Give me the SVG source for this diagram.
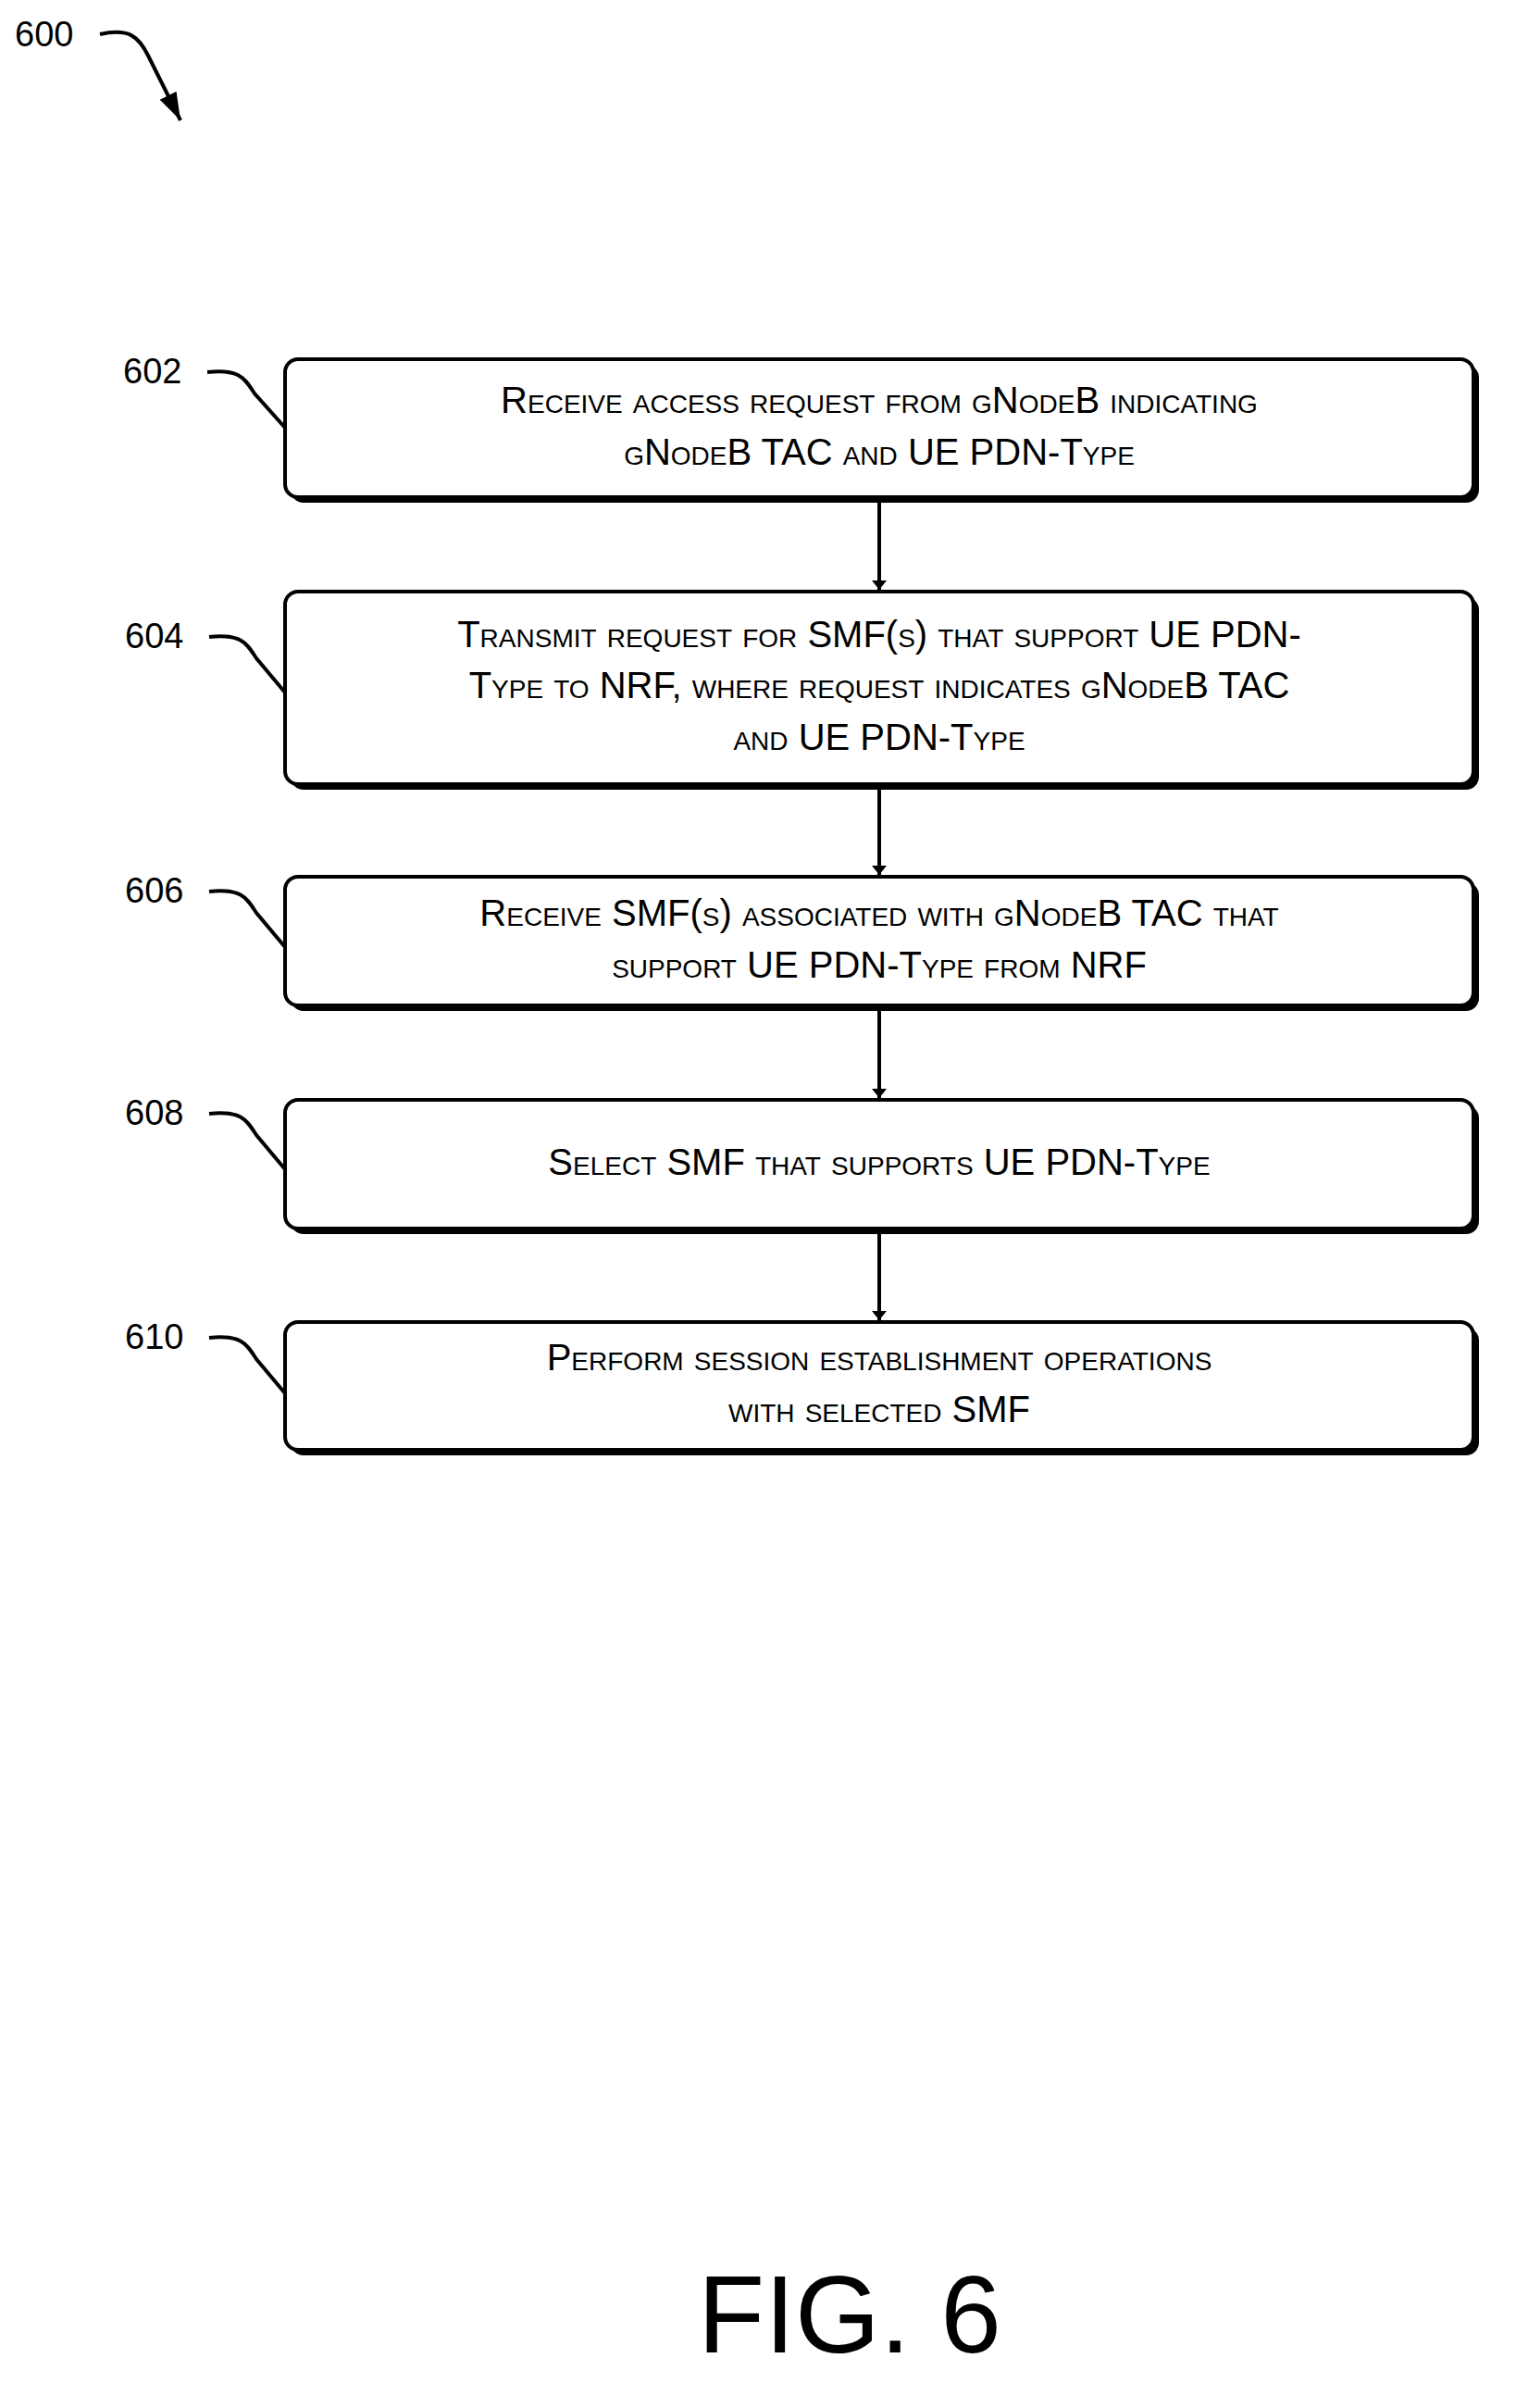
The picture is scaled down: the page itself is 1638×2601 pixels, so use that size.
<svg xmlns="http://www.w3.org/2000/svg" width="1638" height="2601" viewBox="0 0 1638 2601">
<style>
.box{fill:#fff;stroke:#000;stroke-width:4}
.sh{fill:#000}
.t{font-family:"Liberation Sans",Arial,sans-serif;font-size:40px;font-variant:small-caps;text-anchor:middle;dominant-baseline:central}
.lbl{font-family:"Liberation Sans",Arial,sans-serif;font-size:38px}
.lead{fill:none;stroke:#000;stroke-width:4}
.c{stroke:#000;stroke-width:4}
</style>
<defs><marker id="ah" markerWidth="10" markerHeight="16" refX="10" refY="8" orient="auto" markerUnits="userSpaceOnUse" viewBox="0 0 10 16"><path d="M0,0 L10,8 L0,16 Z" fill="#000"/></marker>
<marker id="a2" viewBox="0 0 30 20" refX="30" refY="10" markerWidth="30" markerHeight="20" orient="auto" markerUnits="userSpaceOnUse"><path d="M0,0 L30,10 L0,20 Z"/></marker></defs>
<rect width="1638" height="2601" fill="#fff"/>
<g id="ref600"><text class="lbl" x="16" y="50">600</text><path class="lead" d="M108,37 C140,30 150,40 160,60 L195,130" marker-end="url(#a2)"/></g>
<g id="n602"><rect class="sh" x="314" y="394" width="1284" height="149" rx="14"/><rect class="box" x="308" y="388" width="1284" height="149" rx="14"/>
<text class="t" x="950" y="432">Receive access request from gNodeB indicating</text><text class="t" x="950" y="488">gNodeB TAC and UE PDN-Type</text>
<text class="lbl" x="133" y="414">602</text><path class="lead" d="M224,402 C260,398 265,410 275,425 L308,462"/></g>
<g id="n604"><rect class="sh" x="314" y="645" width="1284" height="208" rx="14"/><rect class="box" x="308" y="639" width="1284" height="208" rx="14"/>
<text class="t" x="950" y="685">Transmit request for SMF(s) that support UE PDN-</text><text class="t" x="950" y="740">Type to NRF, where request indicates gNodeB TAC</text><text class="t" x="950" y="796">and UE PDN-Type</text>
<text class="lbl" x="135" y="700">604</text><path class="lead" d="M226,688 C262,684 267,696 277,711 L308,748"/></g>
<g id="n606"><rect class="sh" x="314" y="953" width="1284" height="139" rx="14"/><rect class="box" x="308" y="947" width="1284" height="139" rx="14"/>
<text class="t" x="950" y="986">Receive SMF(s) associated with gNodeB TAC that</text><text class="t" x="950" y="1042">support UE PDN-Type from NRF</text>
<text class="lbl" x="135" y="975">606</text><path class="lead" d="M226,963 C262,959 267,971 277,986 L308,1023"/></g>
<g id="n608"><rect class="sh" x="314" y="1194" width="1284" height="139" rx="14"/><rect class="box" x="308" y="1188" width="1284" height="139" rx="14"/>
<text class="t" x="950" y="1255">Select SMF that supports UE PDN-Type</text>
<text class="lbl" x="135" y="1215">608</text><path class="lead" d="M226,1203 C262,1199 267,1211 277,1226 L308,1263"/></g>
<g id="n610"><rect class="sh" x="314" y="1434" width="1284" height="138" rx="14"/><rect class="box" x="308" y="1428" width="1284" height="138" rx="14"/>
<text class="t" x="950" y="1466">Perform session establishment operations</text><text class="t" x="950" y="1522">with selected SMF</text>
<text class="lbl" x="135" y="1457">610</text><path class="lead" d="M226,1445 C262,1441 267,1453 277,1468 L308,1505"/></g>
<g id="connectors">
<line class="c" x1="950" y1="541" x2="950" y2="637" marker-end="url(#ah)"/>
<line class="c" x1="950" y1="851" x2="950" y2="945" marker-end="url(#ah)"/>
<line class="c" x1="950" y1="1090" x2="950" y2="1186" marker-end="url(#ah)"/>
<line class="c" x1="950" y1="1331" x2="950" y2="1426" marker-end="url(#ah)"/>
</g>
<text x="918" y="2541" font-family="Liberation Sans,Arial,sans-serif" font-size="118" text-anchor="middle">FIG. 6</text>
</svg>
